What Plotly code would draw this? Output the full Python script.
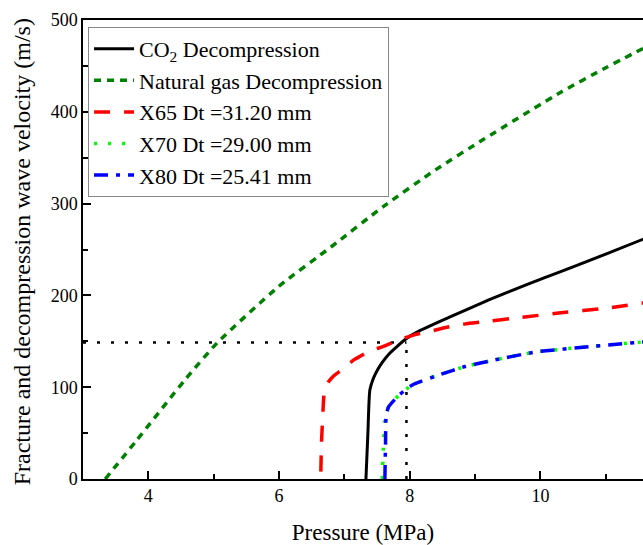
import plotly.graph_objects as go

# ---- data ----
ng_p = [3.34, 3.82, 4.56, 5.05, 6.0, 6.8, 7.6, 8.4, 9.13, 10.33, 11.0, 11.6]
ng_v = [0, 42, 108, 148, 210, 253, 297, 337, 370, 422, 448, 470]

co2_p = [7.33, 7.36, 7.39, 7.44, 7.50, 7.58, 7.68, 7.80, 7.95, 8.14, 8.60, 9.21, 9.80, 10.31, 11.0, 11.6]
co2_v = [0, 50, 97, 109, 118, 127, 136, 144, 153, 161, 176, 195, 212, 226, 245, 262]

x65_p = [6.64, 6.65, 6.67, 6.69, 6.74, 6.83, 6.96, 7.15, 7.38, 7.58, 7.84, 8.07, 8.30, 8.55, 8.85, 9.10, 9.70, 10.31, 11.0, 11.6]
x65_v = [8, 40, 70, 93, 104, 112, 119, 130, 139, 144, 151.6, 157, 160.6, 165, 169, 171, 176, 181, 186, 192]

x70_p = [7.58, 7.60, 7.63, 7.68, 7.84, 8.04, 8.45, 8.85, 9.31, 9.94, 10.8, 11.6]
x70_v = [0, 40, 70, 79, 91.6, 102.5, 113.4, 122.5, 129.8, 138.5, 144.5, 149.5]

x80_p = [7.62, 7.63, 7.64, 7.68, 7.84, 8.04, 8.45, 8.85, 9.31, 9.94, 10.8, 11.6]
x80_v = [0, 40, 70, 79, 91.6, 102.5, 113.4, 122.5, 129.8, 138.5, 144.5, 149.5]

ref_p = 7.95
ref_v = 148.6
x_min = 3.0

names = ["CO<sub>2</sub> Decompression", "Natural gas Decompression",
         "X65 Dt =31.20 mm", "X70 Dt =29.00 mm", "X80 Dt =25.41 mm"]
y_title = "Fracture and decompression wave velocity (m/s)"
x_title = "Pressure (MPa)"

FONT = "Liberation Serif"

fig = go.Figure()

# reference dotted lines
fig.add_trace(go.Scatter(x=[x_min, ref_p], y=[ref_v, ref_v], mode="lines",
                         line=dict(color="black", width=2.5, dash="3px,11px"),
                         showlegend=False, hoverinfo="skip"))
fig.add_trace(go.Scatter(x=[ref_p, ref_p], y=[0, ref_v], mode="lines",
                         line=dict(color="black", width=2.5, dash="3px,11px"),
                         showlegend=False, hoverinfo="skip"))

fig.add_trace(go.Scatter(x=co2_p, y=co2_v, mode="lines", name=names[0],
                         line=dict(color="black", width=3, shape="spline", smoothing=0.6)))
fig.add_trace(go.Scatter(x=ng_p, y=ng_v, mode="lines", name=names[1],
                         line=dict(color="#008000", width=3.5, dash="7px,6px", shape="spline", smoothing=0.6)))
fig.add_trace(go.Scatter(x=x65_p, y=x65_v, mode="lines", name=names[2],
                         line=dict(color="#ff0000", width=3.5, dash="16px,14px", shape="spline", smoothing=0.5)))
fig.add_trace(go.Scatter(x=x70_p, y=x70_v, mode="lines", name=names[3],
                         line=dict(color="#00ff00", width=3.5, dash="3px,11px", shape="spline", smoothing=0.5)))
fig.add_trace(go.Scatter(x=x80_p, y=x80_v, mode="lines", name=names[4],
                         line=dict(color="#0000ff", width=3.5, dash="14px,8px,4px,8px", shape="spline", smoothing=0.5)))

fig.add_annotation(text=y_title, textangle=-90, xref="paper", yref="paper",
                   x=-0.109, y=0.496, xanchor="center", yanchor="middle",
                   showarrow=False, font=dict(family=FONT, size=24, color="black"))

fig.update_layout(
    width=643, height=545,
    margin=dict(l=83, r=0, t=20, b=66),
    paper_bgcolor="white", plot_bgcolor="white",
    font=dict(family=FONT, size=18, color="black"),
    legend=dict(x=0.009, y=0.985, xanchor="left", yanchor="top",
                bordercolor="#888888", borderwidth=1, bgcolor="white",
                font=dict(family=FONT, size=22), itemwidth=40,
                tracegroupgap=0),
    xaxis=dict(range=[x_min, 11.57], tickvals=[4, 6, 8, 10],
               ticks="inside", ticklen=8, tickwidth=1.5, tickcolor="black",
               minor=dict(tickvals=[5, 7, 9, 11], ticks="inside", ticklen=5, tickwidth=1.5, tickcolor="black"),
               showline=True, linewidth=1.5, linecolor="black", mirror=True,
               showgrid=False, zeroline=False,
               tickfont=dict(family=FONT, size=18),
               title=dict(text=x_title, font=dict(family=FONT, size=23), standoff=22)),
    yaxis=dict(range=[0, 500], tickvals=[0, 100, 200, 300, 400, 500],
               ticks="inside", ticklen=8, tickwidth=1.5, tickcolor="black",
               minor=dict(tickvals=[50, 150, 250, 350, 450], ticks="inside", ticklen=5, tickwidth=1.5, tickcolor="black"),
               showline=True, linewidth=1.5, linecolor="black",
               showgrid=False, zeroline=False,
               tickfont=dict(family=FONT, size=18)),
)

fig.write_html("out.html")
